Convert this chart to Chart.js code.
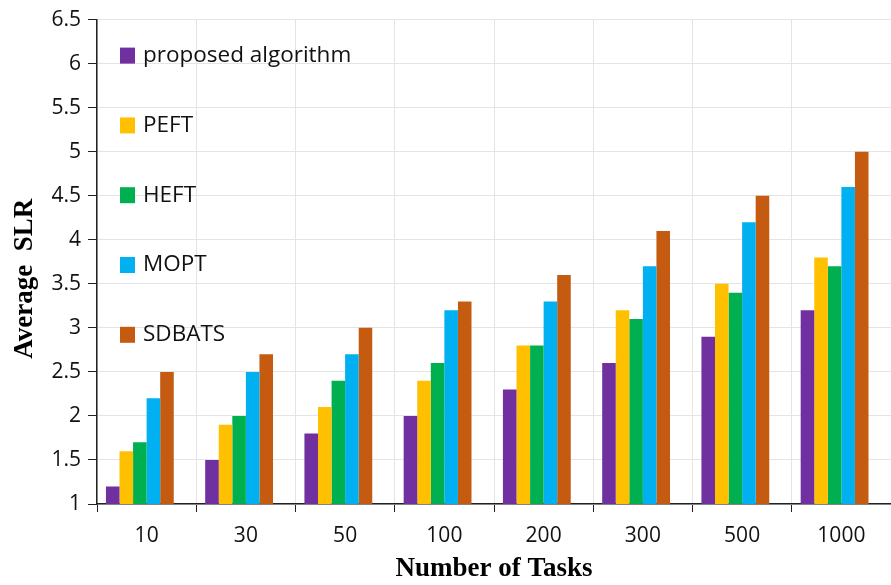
<!DOCTYPE html>
<html>
<head>
<meta charset="utf-8">
<script src="https://cdn.jsdelivr.net/npm/chart.js@4.4.1/dist/chart.umd.min.js"></script>
<style>
  html, body { margin: 0; padding: 0; background: #fff; }
  #wrap { width: 891px; height: 585px; }
</style>
</head>
<body>
<div id="wrap"><canvas id="slrChart" width="891" height="585"></canvas></div>
<script>
const taskCounts = ['10', '30', '50', '100', '200', '300', '500', '1000'];

const proposed = [1.2, 1.5, 1.8, 2.0, 2.3, 2.6, 2.9, 3.2];
const peft     = [1.6, 1.9, 2.1, 2.4, 2.8, 3.2, 3.5, 3.8];
const heft     = [1.7, 2.0, 2.4, 2.6, 2.8, 3.1, 3.4, 3.7];
const mopt     = [2.2, 2.5, 2.7, 3.2, 3.3, 3.7, 4.2, 4.6];
const sdbats   = [2.5, 2.7, 3.0, 3.3, 3.6, 4.1, 4.5, 5.0];

const seriesNames  = ['proposed algorithm', 'PEFT', 'HEFT', 'MOPT', 'SDBATS'];
const seriesValues = [proposed, peft, heft, mopt, sdbats];
const seriesColors = ['#7030A0', '#FFC000', '#00B050', '#00B0F0', '#C55A11'];

const datasets = seriesNames.map((name, i) => ({
  label: name,
  data: seriesValues[i],
  backgroundColor: seriesColors[i],
  borderWidth: 0,
}));
// empty trailing slot so each group sits a little left of its label
datasets.push({ label: '', data: taskCounts.map(() => null), backgroundColor: 'rgba(0,0,0,0)', spacer: true });

// legend stacked down the left side inside the plot
const sideLegend = {
  id: 'sideLegend',
  afterDraw(chart) {
    const { ctx, chartArea } = chart;
    const x = chartArea.left + 23;
    ctx.save();
    ctx.font = '22.5px "Open Sans"';
    ctx.textBaseline = 'middle';
    chart.data.datasets.forEach((ds, i) => {
      if (ds.spacer) return;
      const y = chartArea.top + 36 + i * 69.8;
      ctx.fillStyle = ds.backgroundColor;
      ctx.fillRect(x, y - 8, 15, 16);
      ctx.fillStyle = '#111';
      ctx.fillText(ds.label, x + 23, y);
    });
    ctx.restore();
  }
};

const ctx = document.getElementById('slrChart').getContext('2d');
new Chart(ctx, {
  type: 'bar',
  data: { labels: taskCounts, datasets },
  plugins: [sideLegend],
  options: {
    responsive: false,
    animation: false,
    layout: { padding: { top: 18, right: 0, left: 0, bottom: 0 } },
    datasets: { bar: { categoryPercentage: 0.82, barPercentage: 1.0 } },
    scales: {
      x: {
        offset: true,
        grid: { offset: true, color: '#e4e4e4', tickColor: '#222', tickLength: 8, lineWidth: 1 },
        border: { color: '#222', width: 1.5 },
        ticks: { color: '#111', font: { family: 'Open Sans', size: 21 }, padding: 11 },
        title: {
          display: true,
          text: 'Number of Tasks',
          color: '#000',
          font: { family: 'Liberation Serif', size: 27, weight: 'bold' },
          padding: { top: 0, bottom: 0 },
        },
        afterFit(scale) { scale.height = 81; },
      },
      y: {
        min: 1,
        max: 6.5,
        grid: { color: '#e4e4e4', tickColor: '#222', tickLength: 9 },
        border: { color: '#222', width: 1.5 },
        ticks: {
          stepSize: 0.5,
          color: '#111',
          font: { family: 'Open Sans', size: 21 },
          padding: 7,
          callback: (v) => String(Math.round(v * 10) / 10),
        },
        title: {
          display: true,
          // trailing spaces nudge the rotated title a bit lower
          text: 'Average  SLR     ',
          color: '#000',
          font: { family: 'Liberation Serif', size: 27, weight: 'bold' },
          padding: { top: 9, bottom: 0 },
        },
        afterFit(scale) { scale.width = 97; },
      },
    },
    plugins: {
      legend: { display: false },
      tooltip: { enabled: false },
    },
  },
});
</script>
</body>
</html>
